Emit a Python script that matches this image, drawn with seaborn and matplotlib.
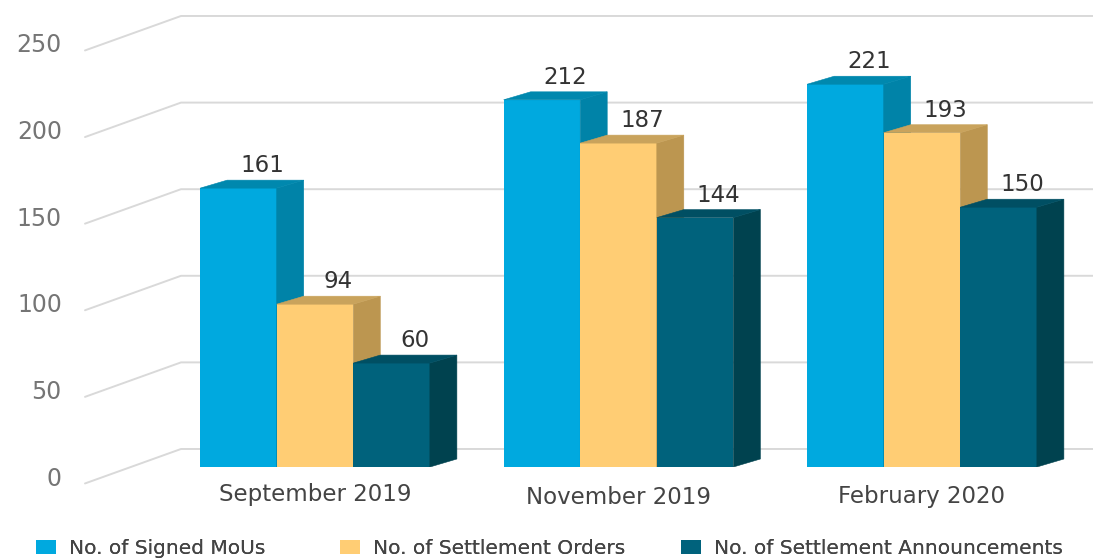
import matplotlib
matplotlib.use("Agg")
import matplotlib.pyplot as plt
import matplotlib.transforms as mtrans
from matplotlib.patches import Polygon, Patch
import pandas as pd
import seaborn as sns

periods = ["September 2019", "November 2019", "February 2020"]
signed_mous = [161, 212, 221]
settlement_orders = [94, 187, 193]
settlement_announcements = [60, 144, 150]
series_names = ["No. of Signed MoUs", "No. of Settlement Orders", "No. of Settlement Announcements"]
front_colors = ["#00A9DF", "#FFCD74", "#00627C"]
side_colors = ["#0083A8", "#BC9650", "#00424F"]
top_colors = ["#0088AE", "#C9A35C", "#004F63"]
y_ticks = [0, 50, 100, 150, 200, 250]

W, H = 1093, 558
PX_Y = 1.732      # pixels per value unit
PX_X = 303.5      # pixels per category step
BASE = 467        # pixel row of the front baseline
LEFT = 66

df = pd.DataFrame({
    "period": periods * 3,
    "series": sum([[n] * 3 for n in series_names], []),
    "value": signed_mous + settlement_orders + settlement_announcements,
})

sns.set_theme(style="white", rc={"font.family": ["DejaVu Sans"]})
fig = plt.figure(figsize=(W / 100, H / 100), dpi=100)
ax = fig.add_axes([LEFT / W, (H - BASE) / H, (W - LEFT) / W, BASE / H])

sns.barplot(data=df, x="period", y="value", hue="series", order=periods, hue_order=series_names,
            palette=front_colors, saturation=1, width=0.757, gap=0, dodge=True, ax=ax,
            errorbar=None, legend=False)
ax.set_xlim(-(315 - LEFT) / PX_X, (W - 315) / PX_X)
ax.set_ylim(0, BASE / PX_Y)
ax.set_xlabel("")
ax.set_ylabel("")
for s in ax.spines.values():
    s.set_visible(False)

# depth of the 3-D extrusion in data units
dx = 27 / PX_X
dy = 8 / PX_Y

# receding grid: diagonal from the front plane up to the back wall, then flat
gx0 = (85 - 315) / PX_X
gx1 = (181 - 315) / PX_X
gx2 = (W - 315) / PX_X
shift_front = -9.5   # value offset of diagonal start
shift_back = 10.4    # value offset of back wall
for v in y_ticks:
    ax.plot([gx0, gx1, gx2], [v + shift_front, v + shift_back, v + shift_back],
            color="#D9D9D9", lw=1.4, zorder=1, clip_on=False, solid_joinstyle="round")

# faces
for i, cont in enumerate(ax.containers):
    for bar in cont:
        x, w, h = bar.get_x(), bar.get_width(), bar.get_height()
        bar.set_zorder(3 + i)
        bar.set_linewidth(0)
        ax.add_patch(Polygon([(x + w, 0), (x + w + dx, dy), (x + w + dx, h + dy), (x + w, h)],
                             closed=True, fc=side_colors[i], ec=side_colors[i], lw=0.4, zorder=3 + i))
        ax.add_patch(Polygon([(x, h), (x + dx, h + dy), (x + w + dx, h + dy), (x + w, h)],
                             closed=True, fc=top_colors[i], ec=top_colors[i], lw=0.4, zorder=3 + i))
        ax.annotate(f"{h:.0f}", (x + w / 2 + dx * 0.87, h + dy), xytext=(0, 3),
                    textcoords="offset pixels", ha="center", va="bottom",
                    fontsize=16.5, color="#333333", zorder=10)

# axis labels
ax.set_yticks(y_ticks)
ax.tick_params(axis="both", length=0)
ax.tick_params(axis="y", pad=3)
ax.tick_params(axis="x", pad=21)
offset = mtrans.ScaledTranslation(0, -9 / 100, fig.dpi_scale_trans)
for lab in ax.get_yticklabels():
    lab.set_transform(lab.get_transform() + offset)
    lab.set_fontsize(17)
    lab.set_color("#757575")
for lab, dy_px in zip(ax.get_xticklabels(), [2, -1, 0]):
    lab.set_transform(lab.get_transform() + mtrans.ScaledTranslation(0, dy_px / 100, fig.dpi_scale_trans))
    lab.set_fontsize(16.5)
    lab.set_color("#444444")
    lab.set_verticalalignment("center")

# one legend entry per anchor, to keep the uneven spacing of the reference
for name, col, px in zip(series_names, front_colors, [36, 340, 681]):
    fig.add_artist(fig.legend([Patch(fc=col, ec="none")], [name], loc="lower left",
                              bbox_to_anchor=(px / W, 0 / H), frameon=False, fontsize=14.5,
                              handlelength=1.0, handleheight=0.74, handletextpad=0.65,
                              labelcolor="#444444", borderaxespad=0, borderpad=0))

fig.savefig("out.png", dpi=100)
